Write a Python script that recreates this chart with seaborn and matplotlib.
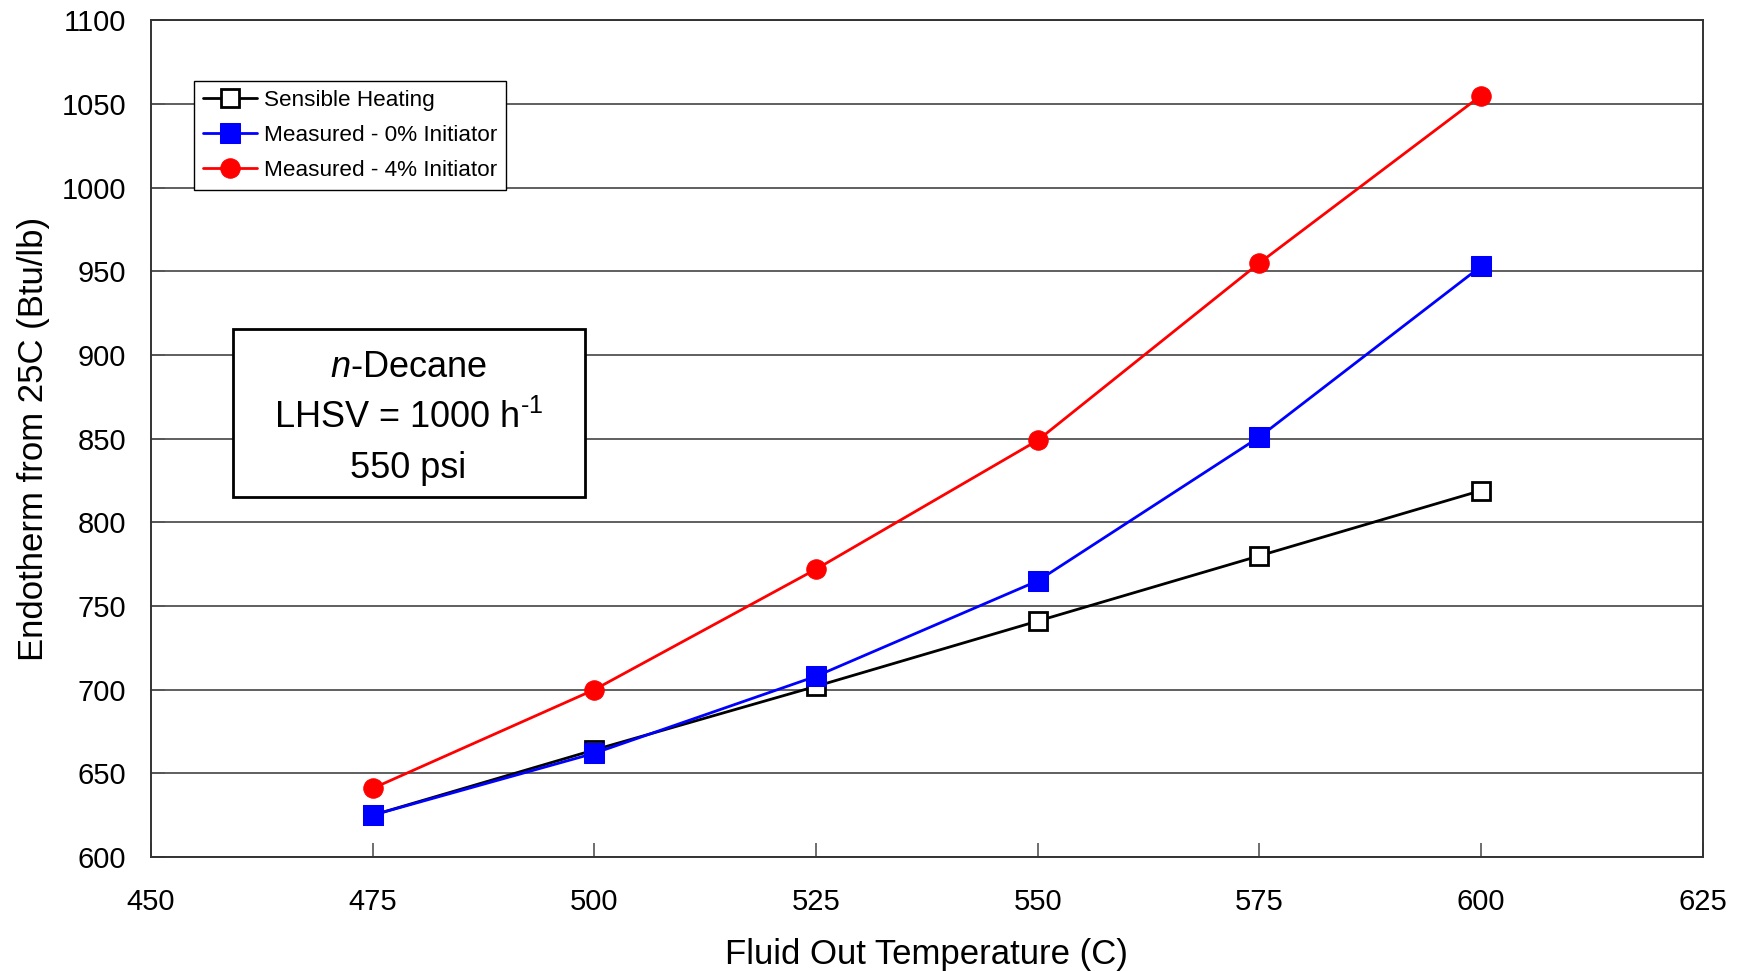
import matplotlib
matplotlib.use("Agg")
import matplotlib.pyplot as plt
import seaborn as sns
import pandas as pd
from matplotlib.patches import Rectangle

temps = [475, 500, 525, 550, 575, 600]
sensible = [625, 664, 702, 741, 780, 819]
measured_0 = [625, 662, 708, 765, 851, 953]
measured_4 = [641, 700, 772, 849, 955, 1055]

series_names = ["Sensible Heating", "Measured - 0% Initiator", "Measured - 4% Initiator"]

sns.set_style("white")
plt.rcParams['font.family'] = ['Liberation Sans', 'DejaVu Sans']
plt.rcParams['text.color'] = 'black'
plt.rcParams['axes.labelcolor'] = 'black'
plt.rcParams['xtick.color'] = 'black'
plt.rcParams['ytick.color'] = 'black'
plt.rcParams['mathtext.fontset'] = 'custom'
plt.rcParams['mathtext.rm'] = 'Liberation Sans'
plt.rcParams['mathtext.it'] = 'Liberation Sans:italic'

fig = plt.figure(figsize=(17.41, 9.71), dpi=100)
ax = fig.add_axes([0.0867, 0.1174, 0.8913, 0.8616])

styles = [
    dict(color="black", marker="s", markerfacecolor="white", markeredgecolor="black",
         markeredgewidth=2, markersize=13),
    dict(color="blue", marker="s", markerfacecolor="blue", markeredgecolor="blue",
         markersize=14),
    dict(color="red", marker="o", markerfacecolor="red", markeredgecolor="red",
         markersize=14),
]
for name, vals, st in zip(series_names, [sensible, measured_0, measured_4], styles):
    df = pd.DataFrame({"temp": temps, "val": vals})
    sns.lineplot(data=df, x="temp", y="val", ax=ax, label=name, linewidth=2, **st)

ax.set_xlim(450, 625)
ax.set_ylim(600, 1100)
ax.set_xticks(range(450, 626, 25))
ax.set_yticks(range(600, 1101, 50))
ax.yaxis.grid(True, color="#444444", linewidth=1.2)
ax.set_axisbelow(True)
for sp in ax.spines.values():
    sp.set_color("#333333")
    sp.set_linewidth(1.4)
ax.tick_params(axis="both", labelsize=21, direction="in", length=10, width=1.2,
               color="#555555", bottom=True, left=True)
ax.tick_params(axis="x", pad=22)
ax.tick_params(axis="y", pad=18)
ax.set_xlabel("Fluid Out Temperature (C)", fontsize=25, labelpad=16)
ax.set_ylabel("Endotherm from 25C (Btu/lb)", fontsize=25, labelpad=8)

leg = ax.legend(loc="upper left", bbox_to_anchor=(0.0277, 0.928), fontsize=16.2,
                frameon=True, fancybox=False, edgecolor="black", framealpha=1,
                borderaxespad=0, handlelength=2.4, labelspacing=0.62,
                handletextpad=0.3, borderpad=0.4)
leg.get_frame().set_linewidth(1.0)

# annotation box
ax.add_patch(Rectangle((0.0528, 0.430), 0.2268, 0.2007, transform=ax.transAxes,
                       facecolor="white", edgecolor="black", linewidth=2, zorder=5))
ax.text(0.166, 0.525, "$\\it{n}$-Decane\nLHSV = 1000 h$^{\\text{-}1}$\n550 psi",
        transform=ax.transAxes, fontsize=26, ha="center", va="center",
        linespacing=1.55, zorder=6)

fig.savefig("out.png", dpi=100)
